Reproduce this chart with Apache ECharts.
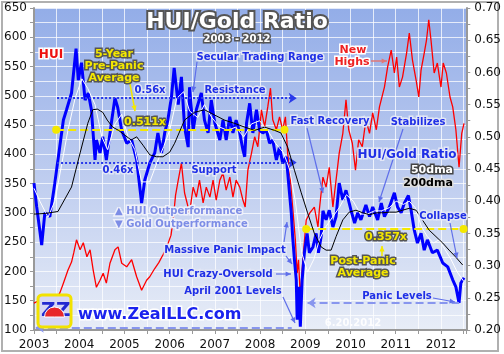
<!DOCTYPE html>
<html>
<head>
<meta charset="utf-8">
<script src="https://cdn.jsdelivr.net/npm/echarts@6/dist/echarts.min.js"></script>
<style>
html,body{margin:0;padding:0;background:#fff}
#chart{width:504px;height:354px}
</style>
</head>
<body>
<div id="chart"></div>
<script>
// HUI index (left axis), [year, value]
var hui = [[2003.00,146],[2003.04,143],[2003.10,150],[2003.20,132],[2003.32,138],[2003.45,150],[2003.57,163],[2003.65,180],[2003.75,202],[2003.83,216],[2003.88,232],[2003.94,254],[2004.02,237],[2004.09,249],[2004.17,225],[2004.24,237],[2004.31,202],[2004.38,173],[2004.46,185],[2004.53,197],[2004.60,180],[2004.68,214],[2004.79,237],[2004.86,242],[2004.94,214],[2005.05,208],[2005.16,220],[2005.27,191],[2005.38,168],[2005.49,185],[2005.56,191],[2005.67,205],[2005.76,215],[2005.85,228],[2005.93,240],[2006.03,262],[2006.08,290],[2006.13,330],[2006.19,356],[2006.26,385],[2006.33,334],[2006.44,300],[2006.52,344],[2006.59,327],[2006.66,356],[2006.74,317],[2006.81,344],[2006.89,327],[2006.96,356],[2007.03,322],[2007.11,356],[2007.18,368],[2007.25,339],[2007.33,361],[2007.40,327],[2007.47,356],[2007.55,344],[2007.62,322],[2007.67,310],[2007.73,373],[2007.81,402],[2007.88,430],[2007.95,413],[2008.03,476],[2008.10,447],[2008.17,481],[2008.23,513],[2008.28,459],[2008.36,442],[2008.43,464],[2008.50,442],[2008.56,464],[2008.61,402],[2008.67,356],[2008.72,310],[2008.78,254],[2008.82,197],[2008.85,220],[2008.89,155],[2008.94,215],[2009.02,288],[2009.10,300],[2009.20,310],[2009.28,276],[2009.31,305],[2009.35,334],[2009.39,361],[2009.46,344],[2009.53,378],[2009.61,310],[2009.68,356],[2009.75,402],[2009.83,436],[2009.90,493],[2009.96,442],[2010.04,419],[2010.11,373],[2010.18,425],[2010.26,413],[2010.34,459],[2010.42,436],[2010.49,471],[2010.57,442],[2010.64,481],[2010.75,515],[2010.82,549],[2010.90,578],[2010.97,539],[2011.02,566],[2011.08,515],[2011.15,532],[2011.24,573],[2011.30,607],[2011.37,561],[2011.45,527],[2011.51,498],[2011.56,544],[2011.63,573],[2011.68,595],[2011.73,630],[2011.78,595],[2011.85,539],[2011.92,556],[2012.00,515],[2012.05,556],[2012.12,539],[2012.20,498],[2012.26,481],[2012.33,442],[2012.40,378],[2012.46,436],[2012.51,453]];

// HUI/Gold ratio (right axis)
var ratio = [[2003.00,0.428],[2003.06,0.391],[2003.17,0.332],[2003.24,0.382],[2003.35,0.376],[2003.46,0.428],[2003.57,0.485],[2003.65,0.526],[2003.72,0.542],[2003.83,0.568],[2003.93,0.637],[2003.98,0.588],[2004.05,0.615],[2004.13,0.557],[2004.20,0.568],[2004.27,0.542],[2004.35,0.464],[2004.38,0.495],[2004.46,0.475],[2004.52,0.50],[2004.60,0.464],[2004.72,0.526],[2004.79,0.56],[2004.85,0.546],[2004.94,0.51],[2005.05,0.49],[2005.16,0.495],[2005.27,0.464],[2005.38,0.397],[2005.45,0.433],[2005.56,0.459],[2005.67,0.475],[2005.74,0.506],[2005.82,0.475],[2005.89,0.506],[2005.96,0.526],[2006.04,0.562],[2006.10,0.607],[2006.19,0.55],[2006.26,0.593],[2006.33,0.515],[2006.41,0.484],[2006.44,0.577],[2006.52,0.51],[2006.59,0.542],[2006.70,0.568],[2006.77,0.526],[2006.85,0.506],[2006.92,0.557],[2007.00,0.521],[2007.11,0.495],[2007.18,0.526],[2007.25,0.495],[2007.33,0.531],[2007.40,0.506],[2007.47,0.526],[2007.55,0.506],[2007.62,0.48],[2007.66,0.469],[2007.70,0.521],[2007.77,0.552],[2007.84,0.506],[2007.92,0.542],[2007.99,0.51],[2008.06,0.506],[2008.14,0.51],[2008.21,0.49],[2008.28,0.495],[2008.36,0.464],[2008.43,0.484],[2008.50,0.459],[2008.58,0.469],[2008.65,0.413],[2008.69,0.382],[2008.72,0.345],[2008.76,0.309],[2008.80,0.278],[2008.82,0.216],[2008.86,0.267],[2008.89,0.205],[2008.93,0.278],[2008.98,0.32],[2009.04,0.35],[2009.09,0.32],[2009.17,0.329],[2009.24,0.35],[2009.29,0.32],[2009.35,0.345],[2009.39,0.385],[2009.46,0.371],[2009.53,0.386],[2009.61,0.36],[2009.68,0.376],[2009.75,0.428],[2009.83,0.402],[2009.90,0.417],[2010.01,0.386],[2010.09,0.366],[2010.16,0.382],[2010.23,0.371],[2010.34,0.394],[2010.42,0.376],[2010.49,0.391],[2010.60,0.371],[2010.68,0.397],[2010.75,0.376],[2010.86,0.391],[2010.97,0.413],[2011.04,0.391],[2011.12,0.382],[2011.19,0.397],[2011.28,0.409],[2011.34,0.386],[2011.41,0.355],[2011.48,0.335],[2011.56,0.35],[2011.63,0.324],[2011.70,0.34],[2011.81,0.32],[2011.92,0.324],[2012.04,0.304],[2012.15,0.298],[2012.26,0.278],[2012.33,0.267],[2012.40,0.242],[2012.44,0.273],[2012.51,0.281]];

// 50-day moving average of the ratio
var ratio50 = [[2003.00,0.42],[2003.13,0.40],[2003.31,0.375],[2003.46,0.40],[2003.62,0.46],[2003.75,0.51],[2003.91,0.56],[2004.06,0.59],[2004.19,0.575],[2004.35,0.55],[2004.50,0.50],[2004.63,0.48],[2004.79,0.52],[2004.94,0.535],[2005.08,0.50],[2005.23,0.48],[2005.38,0.43],[2005.56,0.43],[2005.72,0.46],[2005.87,0.485],[2006.00,0.51],[2006.16,0.56],[2006.31,0.57],[2006.44,0.54],[2006.62,0.53],[2006.77,0.55],[2006.93,0.53],[2007.11,0.515],[2007.28,0.51],[2007.46,0.515],[2007.64,0.50],[2007.81,0.52],[2007.99,0.525],[2008.17,0.51],[2008.34,0.49],[2008.52,0.475],[2008.65,0.45],[2008.78,0.40],[2008.92,0.32],[2009.05,0.29],[2009.19,0.31],[2009.31,0.34],[2009.45,0.36],[2009.60,0.375],[2009.75,0.39],[2009.91,0.41],[2010.06,0.40],[2010.22,0.38],[2010.37,0.38],[2010.53,0.385],[2010.68,0.385],[2010.86,0.39],[2011.01,0.40],[2011.17,0.395],[2011.30,0.40],[2011.43,0.39],[2011.57,0.36],[2011.70,0.345],[2011.83,0.335],[2011.96,0.34],[2012.09,0.325],[2012.22,0.31],[2012.36,0.29],[2012.51,0.275]];

// 200-day moving average of the ratio
var ratio200 = [[2003.00,0.38],[2003.25,0.381],[2003.53,0.384],[2003.83,0.422],[2004.02,0.475],[2004.19,0.521],[2004.30,0.542],[2004.40,0.543],[2004.52,0.538],[2004.62,0.526],[2004.74,0.515],[2004.87,0.51],[2005.00,0.503],[2005.15,0.495],[2005.27,0.50],[2005.41,0.487],[2005.56,0.472],[2005.71,0.469],[2005.85,0.469],[2006.00,0.476],[2006.11,0.49],[2006.33,0.526],[2006.55,0.538],[2006.77,0.542],[2006.99,0.534],[2007.21,0.526],[2007.43,0.521],[2007.66,0.515],[2007.88,0.51],[2008.10,0.515],[2008.32,0.51],[2008.46,0.506],[2008.61,0.484],[2008.76,0.448],[2008.91,0.413],[2009.05,0.382],[2009.20,0.35],[2009.35,0.329],[2009.46,0.324],[2009.57,0.324],[2009.68,0.345],[2009.83,0.371],[2009.97,0.383],[2010.12,0.386],[2010.27,0.382],[2010.42,0.379],[2010.57,0.382],[2010.71,0.382],[2010.86,0.383],[2011.01,0.383],[2011.15,0.386],[2011.30,0.389],[2011.45,0.386],[2011.59,0.371],[2011.74,0.355],[2011.89,0.345],[2012.04,0.335],[2012.18,0.324],[2012.33,0.313],[2012.48,0.301]];

// reference levels of the ratio and the years they span
var resistLevel = 0.56, supportLevel = 0.46, rangeYears = [2003.51, 2008.81];
var preAvgLevel = 0.511, preAvgYears = [2003.49, 2008.54];
var postAvgLevel = 0.357, postAvgYears = [2009.02, 2012.50];
var panicLevel = 0.242, panicYears = [2009.05, 2012.40];
var april2001Level = 0.204, april2001Years = [2003.04, 2008.70];

var FONT = '"DejaVu Sans", Verdana, sans-serif';
var BLUE = '#1f2fe6', BLUE_EDGE = 'rgba(228,232,246,0.95)', YEL = '#f4e800', ARW = '#5f6fea';

function txt(s, x, y, size, fill, stroke, lw, align) {
    return {type: 'text', x: x, y: y, z: 100,
        style: {text: s, fill: fill, stroke: stroke, lineWidth: lw || 3, strokeFirst: true,
            font: 'bold ' + size + 'px ' + FONT, align: align || 'center', textAlign: align || 'center',
            verticalAlign: 'middle', textVerticalAlign: 'middle'}};
}
function btxt(s, x, y, size, align) { return txt(s, x, y, size || 10, BLUE, BLUE_EDGE, 3, align); }
function ytxt(s, x, y, size) { return txt(s, x, y, size || 11, YEL, '#555', 3); }

function arrow(x1, y1, x2, y2, color, w) {
    var a = Math.atan2(y2 - y1, x2 - x1), h = 6;
    var p1 = [x2 - h * Math.cos(a - 0.45), y2 - h * Math.sin(a - 0.45)];
    var p2 = [x2 - h * Math.cos(a + 0.45), y2 - h * Math.sin(a + 0.45)];
    return {type: 'group', z: 90, children: [
        {type: 'line', z: 90, shape: {x1: x1, y1: y1, x2: x2, y2: y2}, style: {stroke: color, lineWidth: w || 1.5}},
        {type: 'polygon', z: 90, shape: {points: [[x2, y2], p1, p2]}, style: {fill: color}}
    ]};
}

function refLine(level, years, color, type, width, s1, s2) {
    return [
        {coord: [years[0], level], symbol: s1, symbolSize: 8, itemStyle: {color: color},
            lineStyle: {color: color, type: type, width: width}},
        {coord: [years[1], level], symbol: s2, symbolSize: 8, itemStyle: {color: color}}
    ];
}

var graphics = [
    {type: 'rect', z: -10, shape: {x: 2, y: 2, width: 496, height: 349}, style: {fill: 'none', stroke: '#b0b0b0', lineWidth: 2}},
    txt('HUI/Gold Ratio', 237, 22, 22, '#fff', '#555', 4),
    txt('2003 - 2012', 237, 39, 10, '#fff', '#555', 3),
    txt('HUI', 51, 55, 12, '#ee1111', '#fff', 3),
    ytxt('5-Year', 114, 54), ytxt('Pre-Panic', 114, 66), ytxt('Average', 114, 78),
    arrow(130, 84, 135, 111, YEL, 1.5),
    btxt('0.56x', 150, 90),
    ytxt('0.511x', 145, 122),
    btxt('0.46x', 118, 170),
    btxt('Secular Trading Range', 260, 57),
    arrow(197, 62, 193, 92, ARW, 1.2),
    btxt('Resistance', 235, 90),
    btxt('Support', 214, 170),
    txt('New', 353, 50, 11, '#ee2222', '#fff', 3), txt('Highs', 352, 62, 11, '#ee2222', '#fff', 3),
    arrow(371, 61, 387, 61, '#e07777', 1.5),
    btxt('Fast Recovery', 330, 121),
    arrow(307, 128, 323, 193, ARW, 1.2),
    btxt('Stabilizes', 418, 122),
    arrow(403, 129, 379, 202, ARW, 1.2),
    btxt('HUI/Gold Ratio', 407, 155, 12),
    txt('50dma', 432, 170, 11, '#fff', '#444', 3),
    txt('200dma', 428, 183, 11, '#000', '#ddd', 3),
    btxt('Collapse', 443, 216),
    arrow(450, 223, 457, 258, ARW, 1.2),
    ytxt('0.357x', 386, 237),
    arrow(382, 256, 382, 246, YEL, 1.5),
    ytxt('Post-Panic', 363, 261), ytxt('Average', 363, 273),
    btxt('Panic Levels', 397, 296),
    arrow(433, 298, 455, 302, ARW, 1.2),
    txt('6.20.2012', 353, 323, 10, 'rgba(255,255,255,0.9)', 'none', 0),
    txt('\u25B2 HUI Outperformance', 115, 211, 10, '#7d8de6', '#eef0fa', 3, 'left'),
    txt('\u25BC Gold Outperformance', 115, 224, 10, '#7d8de6', '#eef0fa', 3, 'left'),
    btxt('Massive Panic Impact', 225, 250),
    arrow(284, 242, 287, 222, ARW, 1.2),
    arrow(286, 256, 292, 264, ARW, 1.2),
    btxt('HUI Crazy-Oversold', 218, 274),
    arrow(276, 274, 291, 274, ARW, 1.2),
    btxt('April 2001 Levels', 233, 291),
    arrow(283, 297, 295, 323, ARW, 1.2),
    {type: 'group', x: 38, y: 295, z: 95, children: [
        {type: 'rect', z: 95, shape: {x: 0, y: 0, width: 33, height: 32, r: 4}, style: {fill: '#d6d6f4', stroke: '#f2e200', lineWidth: 3}},
        {type: 'text', z: 96, x: 3, y: 16, style: {text: 'Z', fill: '#2228d0', font: 'bold 20px ' + FONT, verticalAlign: 'middle', textVerticalAlign: 'middle'}},
        {type: 'text', z: 96, x: 18, y: 16, style: {text: 'Z', fill: '#2228d0', font: 'bold 20px ' + FONT, verticalAlign: 'middle', textVerticalAlign: 'middle'}},
        {type: 'sector', z: 97, shape: {cx: 16.5, cy: 22, r: 10, startAngle: Math.PI, endAngle: 2 * Math.PI}, style: {fill: '#e8262a', stroke: '#fff', lineWidth: 1}}
    ]},
    txt('www.ZealLLC.com', 78, 315, 16, '#1a22ee', '#fff', 3, 'left')
];

var chart = echarts.init(document.getElementById('chart'));
chart.setOption({
    animation: false,
    backgroundColor: '#fff',
    grid: {
        left: 34, right: 37, top: 8, bottom: 24,
        show: true, borderWidth: 0,
        backgroundColor: new echarts.graphic.LinearGradient(0, 0, 0, 1, [
            {offset: 0, color: '#93ade8'}, {offset: 0.5, color: '#bccbef'}, {offset: 1, color: '#e8edf7'}
        ])
    },
    xAxis: {
        type: 'value', min: 2003, max: 2012.56, interval: 0.5,
        axisLine: {lineStyle: {color: '#999', width: 2}},
        axisTick: {show: true, length: 4, lineStyle: {color: '#999'}},
        splitLine: {show: true, lineStyle: {color: 'rgba(255,255,255,0.75)', width: 1}},
        axisLabel: {color: '#111', fontSize: 12, fontFamily: FONT, margin: 9,
            formatter: function (v) { return Math.abs(v - Math.round(v)) < 1e-6 ? String(Math.round(v)) : ''; }}
    },
    yAxis: [
        {
            type: 'value', min: 100, max: 650, interval: 25, position: 'left',
            axisLine: {show: true, lineStyle: {color: '#999', width: 2}},
            axisTick: {show: true, length: 4, lineStyle: {color: '#999'}},
            splitLine: {show: true, lineStyle: {color: 'rgba(255,255,255,0.75)', width: 1}},
            axisLabel: {color: '#111', fontSize: 12, fontFamily: FONT, margin: 7,
                formatter: function (v) { return v % 50 === 0 ? String(v) : ''; }}
        },
        {
            type: 'value', min: 0.2, max: 0.7, interval: 0.025, position: 'right',
            axisLine: {show: true, lineStyle: {color: '#999', width: 2}},
            axisTick: {show: true, length: 4, lineStyle: {color: '#999'}},
            splitLine: {show: false},
            axisLabel: {color: '#111', fontSize: 12, fontFamily: FONT, margin: 8,
                formatter: function (v) { var k = Math.round(v * 1000); return k % 50 === 0 ? (k / 1000).toFixed(2) : ''; }}
        }
    ],
    graphic: graphics,
    series: [
        {name: 'HUI', type: 'line', yAxisIndex: 0, data: hui, showSymbol: false, symbol: 'none',
            lineStyle: {color: '#ff0000', width: 1.3}, z: 2},
        {name: 'HUI/Gold Ratio', type: 'line', yAxisIndex: 1, data: ratio, showSymbol: false, symbol: 'none',
            lineStyle: {color: '#0000ff', width: 3}, z: 3,
            markLine: {
                silent: true, animation: false, label: {show: false}, symbol: 'none',
                data: [
                    refLine(resistLevel, rangeYears, '#2a3aea', 'dotted', 2, 'none', 'arrow'),
                    refLine(supportLevel, rangeYears, '#2a3aea', 'dotted', 2, 'none', 'arrow'),
                    refLine(preAvgLevel, preAvgYears, '#f4e800', 'dashed', 2, 'circle', 'circle'),
                    refLine(postAvgLevel, postAvgYears, '#f4e800', 'dashed', 2, 'circle', 'circle'),
                    refLine(panicLevel, panicYears, '#8896ee', 'dashed', 2, 'arrow', 'none'),
                    refLine(april2001Level, april2001Years, '#8896ee', 'dashed', 2, 'arrow', 'none')
                ]
            }},
        {name: '50dma', type: 'line', yAxisIndex: 1, data: ratio50, showSymbol: false, symbol: 'none',
            lineStyle: {color: '#ffffff', width: 1}, z: 4},
        {name: '200dma', type: 'line', yAxisIndex: 1, data: ratio200, showSymbol: false, symbol: 'none',
            lineStyle: {color: '#000000', width: 1}, z: 5}
    ]
});
</script>
</body>
</html>
